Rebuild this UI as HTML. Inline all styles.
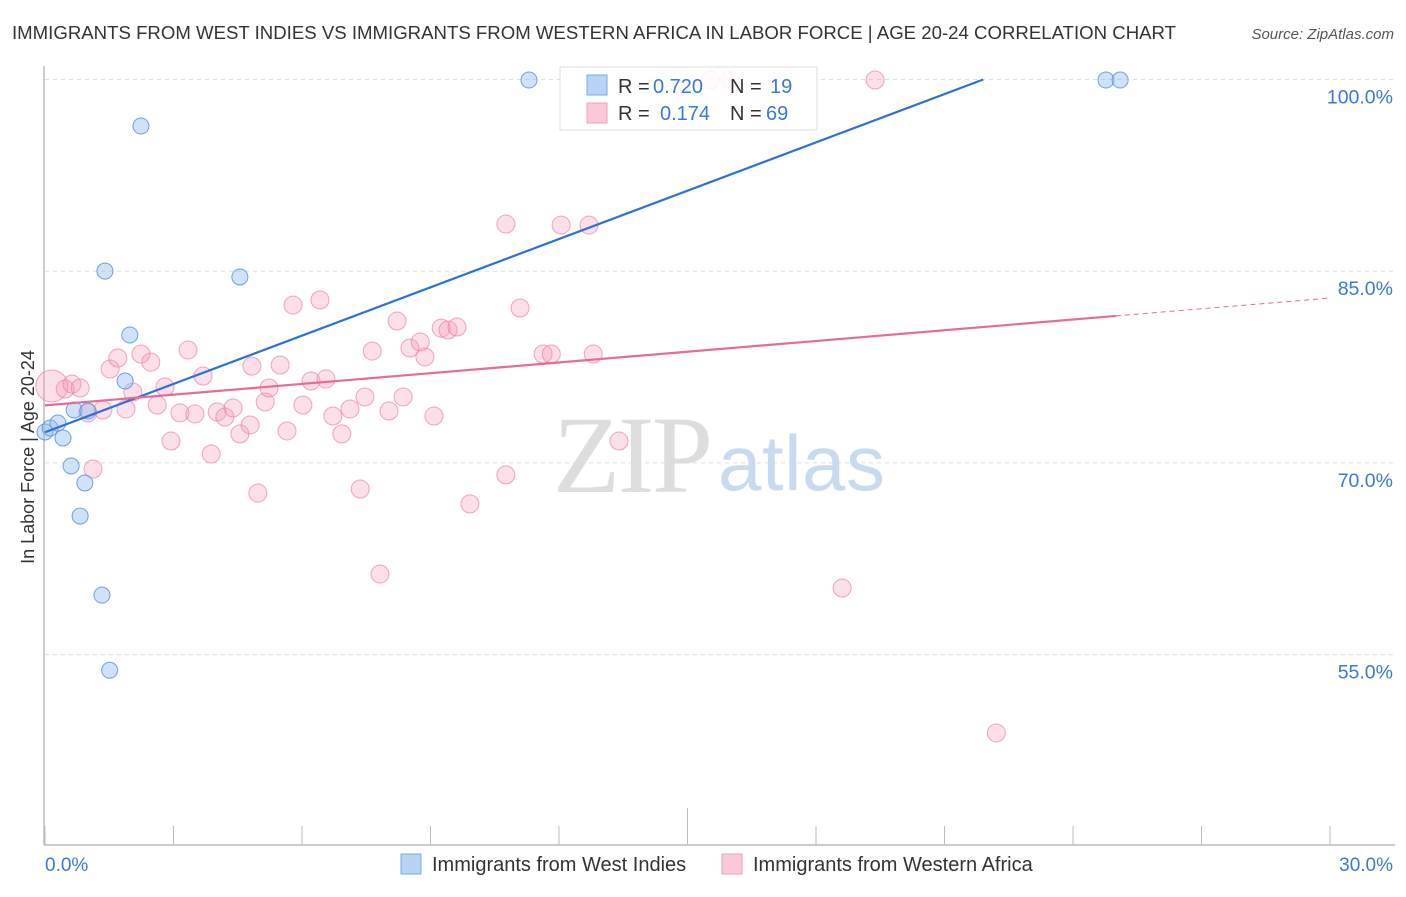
<!DOCTYPE html>
<html><head><meta charset="utf-8"><style>
body{margin:0;background:#fff;font-family:"Liberation Sans",sans-serif;}
svg text{font-family:"Liberation Sans",sans-serif;}
</style></head><body>
<svg id="chart" width="1406" height="892" viewBox="0 0 1406 892" xmlns="http://www.w3.org/2000/svg">
<text x="12" y="39" font-size="18.6" fill="#333" textLength="1164">IMMIGRANTS FROM WEST INDIES VS IMMIGRANTS FROM WESTERN AFRICA IN LABOR FORCE | AGE 20-24 CORRELATION CHART</text>
<text x="1394" y="39" font-size="15" fill="#555" text-anchor="end" font-style="italic">Source: ZipAtlas.com</text>
<g id="grid"></g>
<text x="553" y="492" font-size="110" fill="#ddd" style="font-family:'Liberation Serif',serif" textLength="160">ZIP</text>
<text x="718" y="490" font-size="78" fill="#c8daf0" textLength="167">atlas</text>
<g id="marks"></g>
<text transform="translate(34,457) rotate(-90)" font-size="18" fill="#333" text-anchor="middle">In Labor Force | Age 20-24</text>
<g>
<rect x="560" y="67" width="257" height="63" fill="#fff" fill-opacity="0.85" stroke="#ddd"/>
<rect x="587" y="75" width="20" height="20" fill="#b8d4f5" stroke="#7aa8e6"/>
<text x="618" y="93" font-size="20" fill="#333">R = </text><text x="653" y="93" font-size="20" fill="#3b78d8">0.720</text>
<text x="730" y="93" font-size="20" fill="#333">N = </text><text x="770" y="93" font-size="20" fill="#3b78d8">19</text>
<rect x="587" y="103" width="20" height="20" fill="#fac8d6" stroke="#f0a0b8"/>
<text x="618" y="120" font-size="20" fill="#333">R = </text><text x="660" y="120" font-size="20" fill="#3b78d8">0.174</text>
<text x="730" y="120" font-size="20" fill="#333">N = </text><text x="766" y="120" font-size="20" fill="#3b78d8">69</text>
</g>
<g>
<rect x="401" y="854" width="20" height="20" fill="#b8d4f5" stroke="#7aa8e6"/>
<text x="432" y="871" font-size="20" fill="#333">Immigrants from West Indies</text>
<rect x="722" y="854" width="20" height="20" fill="#fac8d6" stroke="#f0a0b8"/>
<text x="753" y="871" font-size="20" fill="#333">Immigrants from Western Africa</text>
</g>
</svg>
<script>
const xTicks=[0,3,6,9,12,15,18,21,24,27,30];
const yTicks=[55,70,85,100];
const blueX=[0,0.12,0.30,0.42,0.61,0.68,0.93,0.82,1.00,1.33,1.51,1.40,1.87,1.98,2.24,4.55,11.30,24.77,25.10];
const blueY=[72.42,72.73,73.12,71.95,69.76,74.14,68.43,65.84,74.06,59.65,53.78,85.01,76.41,80.01,96.36,84.55,99.96,99.96,99.96];
const pinkX=[0.16,0.47,0.63,0.82,1.00,1.12,1.35,1.52,1.70,1.89,2.05,2.24,2.47,2.62,2.80,2.94,3.15,3.34,3.50,3.69,3.88,4.02,4.20,4.39,4.55,4.79,4.83,4.97,5.14,5.23,5.49,5.65,5.79,6.02,6.21,6.42,6.56,6.72,6.93,7.12,7.36,7.47,7.64,7.82,8.03,8.22,8.36,8.52,8.76,8.87,9.08,9.25,9.41,9.62,9.92,10.76,10.76,11.09,11.63,11.82,12.05,12.70,12.80,13.40,15.53,16.00,18.61,19.38,22.21];
const pinkY=[76.02,75.78,76.17,75.86,73.91,69.52,74.14,77.35,78.21,74.22,75.55,78.52,77.89,74.53,75.94,71.71,73.91,78.83,73.83,76.80,70.70,73.98,73.59,74.30,72.27,72.97,77.57,67.64,74.77,75.86,77.66,72.50,82.35,74.53,76.41,82.75,76.57,73.67,72.27,74.22,67.96,75.16,78.75,61.30,74.06,81.10,75.16,78.99,79.46,78.29,73.67,80.55,80.40,80.63,66.79,69.06,88.69,82.12,78.52,78.52,88.61,88.61,78.52,71.71,99.96,99.96,60.21,99.96,48.87];
const pinkR=[16,9,9,9,9,9,9,9,9,9,9,9,9,9,9,9,9,9,9,9,9,9,9,9,9,9,9,9,9,9,9,9,9,9,9,9,9,9,9,9,9,9,9,9,9,9,9,9,9,9,9,9,9,9,9,9,9,9,9,9,9,9,9,9,9,9,9,9,9];
const blueFit=[72.4,1.26];
const pinkFit=[74.5,0.28];
const NS="http://www.w3.org/2000/svg";
const X=v=>45+v/30*1285;
const Y=v=>79.5+(100-v)/15*191.7;
function mk(tag,attrs,parent){const e=document.createElementNS(NS,tag);for(const k in attrs)e.setAttribute(k,attrs[k]);parent.appendChild(e);return e;}
const grid=document.getElementById('grid'),marks=document.getElementById('marks');
yTicks.forEach(t=>{
 const l=mk('line',{x1:45,x2:1395,y1:Y(t),y2:Y(t),stroke:'#ddd','stroke-dasharray':'4,4'},grid);
 
 
 const tx=mk('text',{x:1393,y:Y(t)+24,'font-size':19.5,fill:'#3b78d8','text-anchor':'end'},grid);
 tx.textContent=t.toFixed(1)+'%';
 
 
});
const ax=mk('line',{x1:44,x2:44,y1:66,y2:845,stroke:'#bbb','stroke-width':1.5},grid);


const bx=mk('line',{x1:44,x2:1395,y1:845,y2:845,stroke:'#bbb','stroke-width':1.5},grid);


xTicks.forEach((t,i)=>{
 const l=mk('line',{x1:X(t),x2:X(t),y1:(i==5?808:826),y2:845,stroke:'#bbb'},grid);
 
 
});
[[0,'start'],[30,'end']].forEach(([t,a])=>{
 const tx=mk('text',{x:t==0?45:1393,y:871,'font-size':19,fill:'#3b78d8','text-anchor':a},grid);
 tx.textContent=t.toFixed(1)+'%';
 
 
});
pinkX.forEach((x,i)=>{
 const c=mk('circle',{cx:X(x),cy:Y(pinkY[i]),r:pinkR[i],fill:'rgba(244,150,180,0.3)',stroke:'rgba(232,130,165,0.7)'},marks);
 
 
});
blueX.forEach((x,i)=>{
 const c=mk('circle',{cx:X(x),cy:Y(blueY[i]),r:8,fill:'rgba(150,190,240,0.45)',stroke:'rgba(90,145,220,0.85)'},marks);
 
 
});
const bEnd=(100-blueFit[0])/blueFit[1];
const bl=mk('line',{x1:X(0),y1:Y(blueFit[0]),x2:X(bEnd),y2:Y(100),stroke:'#2a72d8','stroke-width':2.2},marks);


const pl=mk('line',{x1:X(0),y1:Y(pinkFit[0]),x2:X(25),y2:Y(pinkFit[0]+pinkFit[1]*25),stroke:'#e8699a','stroke-width':2.2},marks);


const pd=mk('line',{x1:X(25),y1:Y(pinkFit[0]+pinkFit[1]*25),x2:X(30),y2:Y(pinkFit[0]+pinkFit[1]*30),stroke:'#e8699a','stroke-width':1,'stroke-dasharray':'5,4'},marks);


</script>
</body></html>
